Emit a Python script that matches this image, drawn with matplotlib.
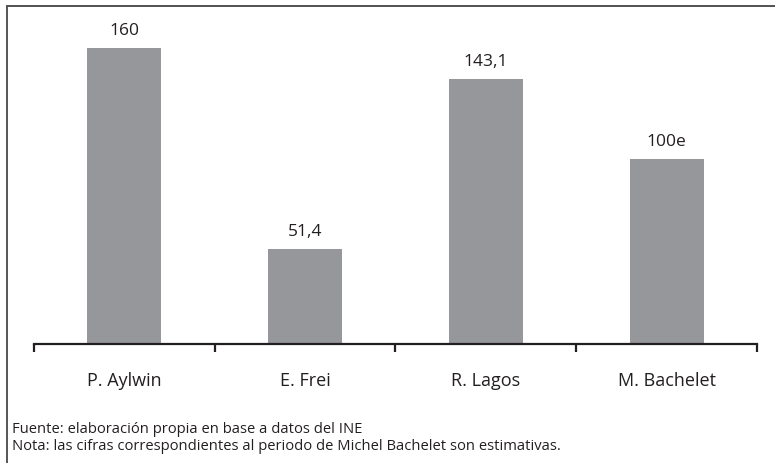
import matplotlib
matplotlib.use("Agg")
import matplotlib.pyplot as plt
from matplotlib.lines import Line2D

plt.rcParams["font.family"] = ["Open Sans", "DejaVu Sans"]

presidents = ["P. Aylwin", "E. Frei", "R. Lagos", "M. Bachelet"]
values = [160, 51.4, 143.1, 100]
value_labels = ["160", "51,4", "143,1", "100e"]
notes = ["Fuente: elaboración propia en base a datos del INE",
         "Nota: las cifras correspondientes al periodo de Michel Bachelet son estimativas."]

W, H = 775, 463
fig = plt.figure(figsize=(W / 100, H / 100), dpi=100)

# axes placed in pixel terms: left 34, right 757, baseline 344, top 20
ax = fig.add_axes([34 / W, 1 - 344 / H, (757 - 34) / W, (344 - 20) / H])
ink = "#231f20"
x = range(len(presidents))
ax.bar(x, values, width=0.41, color="#96979b")
for i, (v, lab) in enumerate(zip(values, value_labels)):
    ax.text(i, v + 5, lab, ha="center", va="bottom", fontsize=12.5, color=ink)

ax.set_xlim(-0.5, len(presidents) - 0.5)
ax.set_ylim(0, 175)
for s in ("top", "right", "left"):
    ax.spines[s].set_visible(False)
ax.spines["bottom"].set_color(ink)
ax.spines["bottom"].set_linewidth(1.6)
ax.set_yticks([])
ax.set_xticks([i - 0.5 for i in range(len(presidents) + 1)])
ax.set_xticklabels([])
ax.tick_params(axis="x", length=6, width=1.6, color=ink, direction="out")
for i, name in enumerate(presidents):
    ax.text(i, -20, name, ha="center", va="center", fontsize=13, color=ink)

# frame lines (top and left only)
fig.add_artist(Line2D([7 / W, 1], [1 - 6 / H, 1 - 6 / H], color="#333333", lw=1.2))
fig.add_artist(Line2D([7 / W, 7 / W], [0, 1 - 6 / H], color="#555555", lw=1.4))

fig.text(12 / W, 1 - 433 / H, notes[0], fontsize=10.6, color=ink, va="baseline")
fig.text(12 / W, 1 - 450 / H, notes[1], fontsize=10.6, color=ink, va="baseline")

fig.savefig("out.png", dpi=100)
